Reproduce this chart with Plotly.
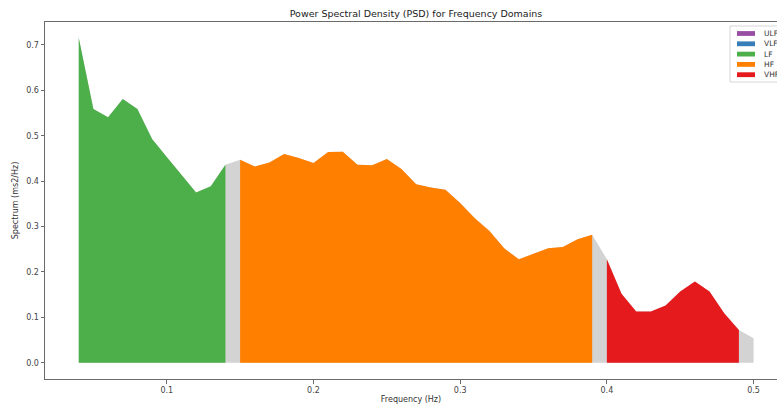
import plotly.graph_objects as go

# Power spectrum sampled every 0.01 Hz from 0.04 to 0.50 Hz
frequency = [round(0.04 + 0.01 * i, 2) for i in range(47)]
power = [
    0.716, 0.559, 0.541, 0.581, 0.559, 0.493, 0.453, 0.414, 0.375, 0.389,
    0.436, 0.447, 0.432, 0.441, 0.460, 0.451, 0.440, 0.464, 0.465, 0.436,
    0.435, 0.449, 0.427, 0.393, 0.386, 0.381, 0.352, 0.318, 0.290, 0.252,
    0.228, 0.240, 0.252, 0.255, 0.272, 0.282, 0.228, 0.152, 0.113, 0.113,
    0.126, 0.157, 0.179, 0.157, 0.109, 0.072, 0.054,
]

# Frequency bands (lower bound inclusive, upper bound exclusive)
band_names = ["ULF", "VLF", "LF", "HF", "VHF"]
band_limits = [(0.0, 0.0033), (0.0033, 0.04), (0.04, 0.15), (0.15, 0.4), (0.4, 0.5)]
band_colors = ["#984ea3", "#377eb8", "#4daf4a", "#ff7f00", "#e41a1c"]

W, H = 777, 404
L, R, T, B = 45, 0, 22, 25
PW, PH = W - L - R, H - T - B

fig = go.Figure()

# Whole spectrum in light grey underneath the band fills
fig.add_trace(go.Scatter(
    x=frequency, y=power, mode="lines", line=dict(width=0, color="#d3d3d3"),
    fill="tozeroy", fillcolor="#d3d3d3", showlegend=False, hoverinfo="skip",
))

for name, (lo, hi), color in zip(band_names, band_limits, band_colors):
    xs = [f for f in frequency if lo <= f < hi]
    ys = [p for f, p in zip(frequency, power) if lo <= f < hi]
    if not xs:
        continue
    fig.add_trace(go.Scatter(
        x=xs, y=ys, mode="lines", line=dict(width=0, color=color),
        fill="tozeroy", fillcolor=color, name=name, showlegend=False,
    ))

# Legend drawn as patches with labels
def px_x(p):
    return (p - L) / PW

def px_y(p):
    return (H - B - p) / PH

shapes = [dict(
    type="rect", xref="paper", yref="paper",
    x0=px_x(730), x1=px_x(800), y0=px_y(82), y1=px_y(26),
    line=dict(color="#d6d6d6", width=1), fillcolor="rgba(255,255,255,0.85)",
)]
annotations = []
row_y0, row_step = 33.5, 10.3
for i, (name, color) in enumerate(zip(band_names, band_colors)):
    cy = row_y0 + i * row_step
    shapes.append(dict(
        type="rect", xref="paper", yref="paper",
        x0=px_x(737), x1=px_x(755), y0=px_y(cy + 2.4), y1=px_y(cy - 2.4),
        line=dict(width=0), fillcolor=color,
    ))
    annotations.append(dict(
        x=px_x(761.5), y=px_y(cy), xref="paper", yref="paper", text=name,
        showarrow=False, xanchor="left", yanchor="middle",
        font=dict(family="DejaVu Sans", size=7.5, color="#333"),
    ))

axis_common = dict(
    showgrid=False, zeroline=False, showline=True, linecolor="#6a6a6a",
    linewidth=1, ticks="outside", ticklen=3.5, tickcolor="#6a6a6a",
    tickfont=dict(family="DejaVu Sans", size=8, color="#444"),
)

fig.update_layout(
    width=W, height=H,
    margin=dict(l=L, r=R, t=T, b=B),
    paper_bgcolor="white", plot_bgcolor="white",
    title=dict(
        text="Power Spectral Density (PSD) for Frequency Domains",
        x=(416 - L) / PW, xref="paper", xanchor="center",
        y=1 - 14 / H, yref="container", yanchor="middle",
        font=dict(family="DejaVu Sans", size=9.5, color="#222"),
    ),
    xaxis=dict(
        range=[0.017, 0.017 + PW / 1467.0], mirror=True,
        tickvals=[0.1, 0.2, 0.3, 0.4, 0.5],
        ticktext=["0.1", "0.2", "0.3", "0.4", "0.5"],
        title=dict(text="Frequency (Hz)", standoff=4,
                   font=dict(family="DejaVu Sans", size=8, color="#333")),
        **axis_common,
    ),
    yaxis=dict(
        range=[-0.0358, -0.0358 + PH / 454.0],
        tickvals=[0.0, 0.1, 0.2, 0.3, 0.4, 0.5, 0.6, 0.7],
        ticktext=["0.0", "0.1", "0.2", "0.3", "0.4", "0.5", "0.6", "0.7"],
        title=dict(text="Spectrum (ms2/Hz)", standoff=6,
                   font=dict(family="DejaVu Sans", size=8, color="#333")),
        **axis_common,
    ),
    shapes=shapes,
    annotations=annotations,
    showlegend=False,
)

fig.write_html("out.html")
